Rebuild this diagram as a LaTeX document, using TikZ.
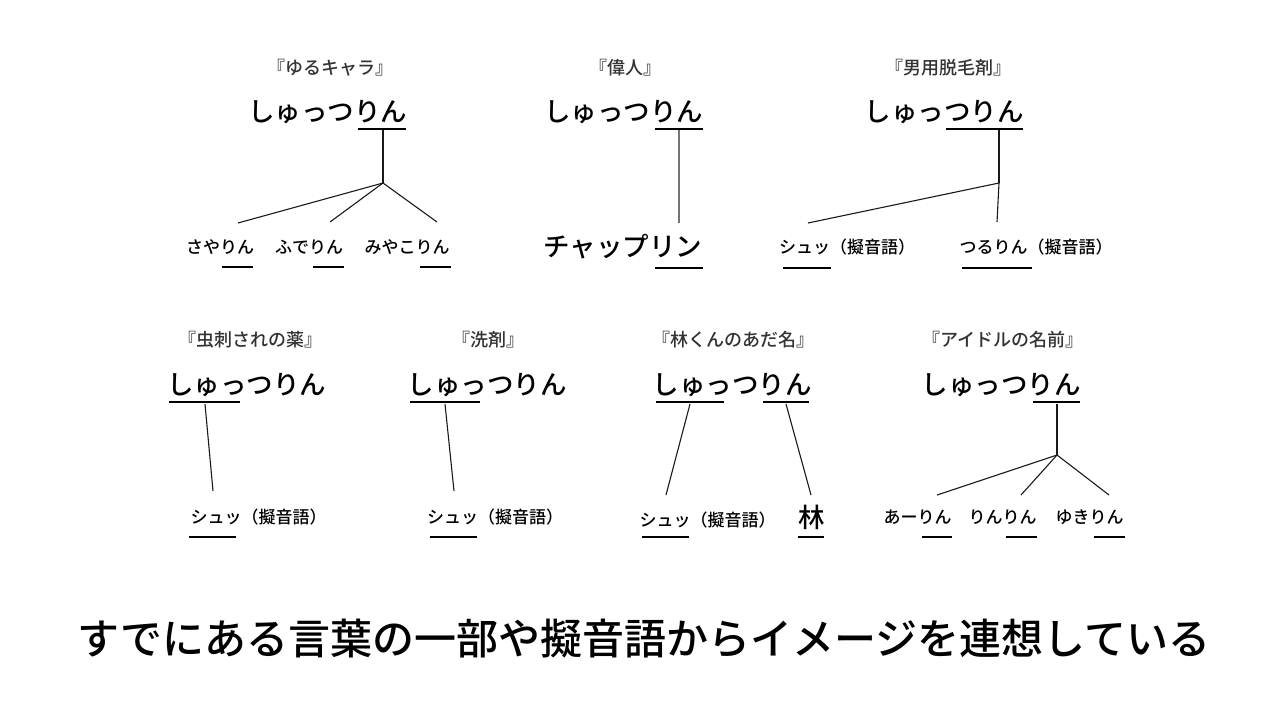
\documentclass[tikz,border=0pt]{standalone}
\usepackage{fontspec}
\setmainfont{Noto Sans CJK JP}[UprightFont={* Medium}]
\begin{document}
\begin{tikzpicture}[x=1pt,y=-1pt,
  ttl/.style={font=\fontsize{18}{20}\selectfont, text=black!80, inner sep=0, anchor=base},
  mainw/.style={font=\fontsize{26.5}{30}\selectfont, text=black, inner sep=0, anchor=base},
  subw/.style={font=\fontsize{17}{20}\selectfont, text=black, inner sep=0, anchor=base},
  ul/.style={line width=2.5pt, black},
  link/.style={line width=1.1pt, black!90},
  glink/.style={line width=1.1pt, black!55}]
\fill[white] (0,0) rectangle (1280,720);
\useasboundingbox (0,0) rectangle (1280,720);

% ---------- Group 1 ----------
\node[ttl] (t1) at (330,74) {『ゆるキャラ』};
\node[mainw] (w1) at (327.5,121) {しゅっつりん};
\coordinate (u1a) at (358,129); \coordinate (u1b) at (406,129);
\draw[ul] (u1a) -- (u1b);
\coordinate (m1) at (383,130); \coordinate (j1) at (383,183);
\coordinate (e1a) at (238,223); \coordinate (e1b) at (330,222); \coordinate (e1c) at (437,222);
\draw[link] (m1) -- (j1);
\draw[link] (j1) -- (e1a); \draw[link] (j1) -- (e1b); \draw[link] (j1) -- (e1c);
\node[subw] (s1a) at (220,253) {さやりん};
\node[subw] (s1b) at (309,253) {ふでりん};
\node[subw] (s1c) at (407,253) {みやこりん};
\coordinate (v1a) at (222,267); \coordinate (v1b) at (253,267);
\coordinate (v1c) at (313,267); \coordinate (v1d) at (344,267);
\coordinate (v1e) at (420,267); \coordinate (v1f) at (451,267);
\draw[ul] (v1a) -- (v1b); \draw[ul] (v1c) -- (v1d); \draw[ul] (v1e) -- (v1f);

% ---------- Group 2 ----------
\node[ttl] (t2) at (625,74) {『偉人』};
\node[mainw] (w2) at (623.5,121) {しゅっつりん};
\coordinate (u2a) at (655,129); \coordinate (u2b) at (703,129);
\draw[ul] (u2a) -- (u2b);
\coordinate (m2) at (679,130); \coordinate (e2) at (679,223);
\draw[glink] (m2) -- (e2);
\node[mainw] (s2) at (623,256) {チャップリン};
\coordinate (v2a) at (655,268); \coordinate (v2b) at (703,268);
\draw[ul] (v2a) -- (v2b);

% ---------- Group 3 ----------
\node[ttl] (t3) at (948,74) {『男用脱毛剤』};
\node[mainw] (w3) at (944,121) {しゅっつりん};
\coordinate (u3a) at (946,129); \coordinate (u3b) at (1023,129);
\draw[ul] (u3a) -- (u3b);
\coordinate (m3) at (999,130); \coordinate (j3) at (999,183);
\coordinate (e3a) at (808,223); \coordinate (e3b) at (997,222);
\draw[link] (m3) -- (j3);
\draw[link] (j3) -- (e3a); \draw[link] (j3) -- (e3b);
\node[subw] (s3a) at (847,253) {シュッ（擬音語）};
\node[subw] (s3b) at (1036,253) {つるりん（擬音語）};
\coordinate (v3a) at (783,268); \coordinate (v3b) at (831,268);
\coordinate (v3c) at (962,268); \coordinate (v3d) at (1032,268);
\draw[ul] (v3a) -- (v3b); \draw[ul] (v3c) -- (v3d);

% ---------- Group 4 ----------
\node[ttl] (t4) at (250,346) {『虫刺されの薬』};
\node[mainw] (w4) at (246.5,394) {しゅっつりん};
\coordinate (u4a) at (169,402); \coordinate (u4b) at (240,402);
\draw[ul] (u4a) -- (u4b);
\coordinate (m4) at (205,404); \coordinate (e4) at (213,491);
\draw[link] (m4) -- (e4);
\node[subw] (s4) at (258.5,523) {シュッ（擬音語）};
\coordinate (v4a) at (189,537); \coordinate (v4b) at (236,537);
\draw[ul] (v4a) -- (v4b);

% ---------- Group 5 ----------
\node[ttl] (t5) at (488,346) {『洗剤』};
\node[mainw] (w5) at (487,394) {しゅっつりん};
\coordinate (u5a) at (410,402); \coordinate (u5b) at (480,402);
\draw[ul] (u5a) -- (u5b);
\coordinate (m5) at (445,404); \coordinate (e5) at (454,491);
\draw[link] (m5) -- (e5);
\node[subw] (s5) at (495,523) {シュッ（擬音語）};
\coordinate (v5a) at (430,537); \coordinate (v5b) at (477,537);
\draw[ul] (v5a) -- (v5b);

% ---------- Group 6 ----------
\node[ttl] (t6) at (733,346) {『林くんのあだ名』};
\node[mainw] (w6) at (732,394) {しゅっつりん};
\coordinate (u6a) at (656,402); \coordinate (u6b) at (724,402);
\coordinate (u6c) at (763,402); \coordinate (u6d) at (809,402);
\draw[ul] (u6a) -- (u6b); \draw[ul] (u6c) -- (u6d);
\coordinate (m6a) at (690,404); \coordinate (e6a) at (666,495);
\coordinate (m6b) at (786,404); \coordinate (e6b) at (811,495);
\draw[link] (m6a) -- (e6a); \draw[link] (m6b) -- (e6b);
\node[subw] (s6a) at (707.5,526) {シュッ（擬音語）};
\node[mainw] (s6b) at (811.5,527) {林};
\coordinate (v6a) at (642,537); \coordinate (v6b) at (689,537);
\coordinate (v6c) at (798,537); \coordinate (v6d) at (824,537);
\draw[ul] (v6a) -- (v6b); \draw[ul] (v6c) -- (v6d);

% ---------- Group 7 ----------
\node[ttl] (t7) at (1003,346) {『アイドルの名前』};
\node[mainw] (w7) at (1001,394) {しゅっつりん};
\coordinate (u7a) at (1033,402); \coordinate (u7b) at (1080,402);
\draw[ul] (u7a) -- (u7b);
\coordinate (m7) at (1057,404); \coordinate (j7) at (1057,455);
\coordinate (e7a) at (937,495); \coordinate (e7b) at (1021,495); \coordinate (e7c) at (1109,495);
\draw[link] (m7) -- (j7);
\draw[link] (j7) -- (e7a); \draw[link] (j7) -- (e7b); \draw[link] (j7) -- (e7c);
\node[subw] (s7a) at (917.5,523) {あーりん};
\node[subw] (s7b) at (1002.5,523) {りんりん};
\node[subw] (s7c) at (1089.5,523) {ゆきりん};
\coordinate (v7a) at (922,537); \coordinate (v7b) at (952,537);
\coordinate (v7c) at (1006,537); \coordinate (v7d) at (1037,537);
\coordinate (v7e) at (1094,537); \coordinate (v7f) at (1125,537);
\draw[ul] (v7a) -- (v7b); \draw[ul] (v7c) -- (v7d); \draw[ul] (v7e) -- (v7f);

% ---------- Bottom caption ----------
\node[font=\fontsize{42}{46}\selectfont, inner sep=0, anchor=base] (cap) at (644,654)
  {すでにある言葉の一部や擬音語からイメージを連想している};
\end{tikzpicture}
\end{document}
